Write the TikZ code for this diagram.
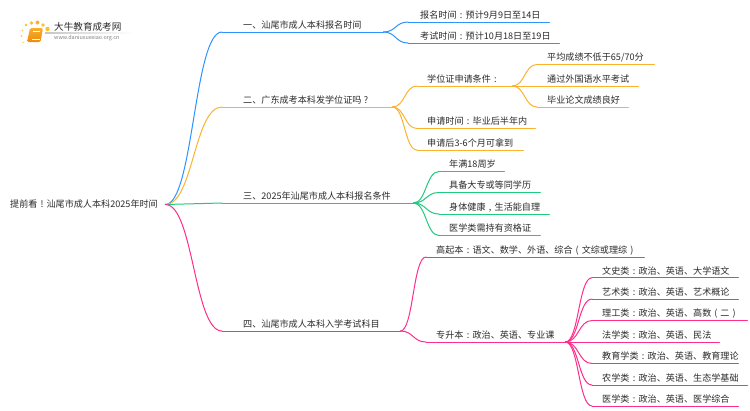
\documentclass[tikz,border=0pt]{standalone}
\usepackage{fontspec}
\setmainfont{Noto Sans CJK SC}
\usetikzlibrary{calc}
\definecolor{cblue}{HTML}{2E93FF}
\definecolor{corange}{HTML}{FBB32F}
\definecolor{cgreen}{HTML}{1FCB7F}
\definecolor{cpink}{HTML}{FF2E8C}
\definecolor{ctext}{HTML}{2B2B2B}
\definecolor{cbooka}{HTML}{F7B02E}
\definecolor{cbookb}{HTML}{EE8A10}
\tikzset{
  every node/.style={text=ctext,font=\fontsize{9.1}{11}\selectfont},
  topic/.style={anchor=south west,inner xsep=0pt,inner ysep=1.5pt,text height=8pt,text depth=2pt},
  stem/.style={line width=1pt,line cap=round}
}
\newcommand\fw[1]{\makebox[9.1pt][c]{#1}}
% name, line start x, text x, line end x, line y, colour, text
\newcommand\mapnode[7]{%
  \pgfmathsetlengthmacro\gapw{#3pt-#2pt}%
  \pgfmathsetlengthmacro\boxw{#4pt-#3pt}%
  \node[topic] (#1) at (#2,#5) {\hspace*{\gapw}\makebox[\boxw][l]{#7}};
  \draw[stem,#6] (#1.south west) -- (#1.south east);
}
% parent, child, half gap, colour
\newcommand\link[4]{\draw[stem,#4] (#1.south east) .. controls +(#3,0) and +(-#3,0) .. (#2.south west);}
\newcommand\rootlink[2]{\draw[stem,#2] (root.east) .. controls +(28,0) and +(-28,0) .. (#1.south west);}
\begin{document}
\begin{tikzpicture}[x=1pt,y=-1pt]
\useasboundingbox (0,0) rectangle (750,410);
\fill[white] (0,0) rectangle (750,410);

% logo
\foreach \px/\py/\pr/\pc in {47.5/29/2.2/FBC02D,43/25/1.9/FBC02D,37.5/22.5/2/FBB32F,31.5/23/1.8/FBC02D,26/25/1.3/FBC02D,22.5/30.5/1.2/FDD66B,21.5/36/1.1/FDD66B,23/42.5/.9/FDD66B}{
  \definecolor{dotc}{HTML}{\pc}
  \fill[dotc] (\px,\py) circle (\pr);
}
\shade[rounded corners=1.5pt,top color=cbooka,bottom color=cbookb] (30,28) -- (43,28) -- (40.5,42) -- (27,42) -- cycle;
\draw[white,line width=.5pt] (32,39.5) -- (39.5,39.5);
\draw[white,line width=.5pt] (33,31) -- (40,31);
\shade[left color=gray!45,right color=white] (45,32.8) rectangle (133,33.4);
\node[anchor=west,inner sep=0pt,font=\fontsize{9.6}{11}\selectfont] (logotitle) at (54,27) {大牛教育成考网};
\node[anchor=west,inner sep=0pt,font=\fontsize{5.4}{7}\selectfont,text=gray] (logourl) at (54,38.5) {www.daniuxuexiao.org.cn};

% root
\node[anchor=west,inner sep=0pt] (root) at (10,204.5) {\makebox[155pt][l]{提前看\fw{!}汕尾市成人本科2025年时间}};

% branch 1
\mapnode{a}{222}{243}{383}{32}{cblue}{一、汕尾市成人本科报名时间}
\mapnode{a1}{408}{420}{549}{22}{cblue}{报名时间\fw{:}预计9月9日至14日}
\mapnode{a2}{408}{420}{559}{43}{cblue}{考试时间\fw{:}预计10月18日至19日}
\rootlink{a}{cblue}
\link{a}{a1}{12.5}{cblue}
\link{a}{a2}{12.5}{cblue}

% branch 2
\mapnode{b}{222}{243}{392}{107}{corange}{二、广东成考本科发学位证吗\fw{?}}
\mapnode{b1}{417}{427}{512}{86}{corange}{学位证申请条件\fw{:}}
\mapnode{b2}{417}{427}{535}{128.5}{corange}{申请时间\fw{:}毕业后半年内}
\mapnode{b3}{417}{427}{523}{150}{corange}{申请后3-6个月可拿到}
\mapnode{b11}{537}{547}{654}{64.5}{corange}{平均成绩不低于65/70分}
\mapnode{b12}{537}{547}{638}{86}{corange}{通过外国语水平考试}
\mapnode{b13}{537}{547}{628}{107}{corange}{毕业论文成绩良好}
\rootlink{b}{corange}
\link{b}{b1}{12.5}{corange}
\link{b}{b2}{12.5}{corange}
\link{b}{b3}{12.5}{corange}
\link{b1}{b11}{12.5}{corange}
\link{b1}{b12}{12.5}{corange}
\link{b1}{b13}{12.5}{corange}

% branch 3
\mapnode{c}{222}{243}{413}{203}{cgreen}{三、2025年汕尾市成人本科报名条件}
\mapnode{c1}{439}{449}{504}{171.5}{cgreen}{年满18周岁}
\mapnode{c2}{439}{449}{540}{192.5}{cgreen}{具备大专或等同学历}
\mapnode{c3}{439}{449}{549}{214}{cgreen}{身体健康\fw{,}生活能自理}
\mapnode{c4}{439}{449}{540}{235.5}{cgreen}{医学类需持有资格证}
\rootlink{c}{cgreen}
\link{c}{c1}{13}{cgreen}
\link{c}{c2}{13}{cgreen}
\link{c}{c3}{13}{cgreen}
\link{c}{c4}{13}{cgreen}

% branch 4
\mapnode{d}{222}{243}{400}{331}{cpink}{四、汕尾市成人本科入学考试科目}
\mapnode{d1}{426}{436}{644}{257}{cpink}{高起本\fw{:}语文、数学、外语、综合\fw{(}文综或理综\fw{)}}
\mapnode{d2}{426}{436}{565}{342}{cpink}{专升本\fw{:}政治、英语、专业课}
\mapnode{e1}{592}{602}{738}{277.7}{cpink}{文史类\fw{:}政治、英语、大学语文}
\mapnode{e2}{592}{602}{738}{299}{cpink}{艺术类\fw{:}政治、英语、艺术概论}
\mapnode{e3}{592}{602}{747}{320.5}{cpink}{理工类\fw{:}政治、英语、高数\fw{(}二\fw{)}}
\mapnode{e4}{592}{602}{719}{342}{cpink}{法学类\fw{:}政治、英语、民法}
\mapnode{e5}{592}{602}{738}{363.5}{cpink}{教育学类\fw{:}政治、英语、教育理论}
\mapnode{e6}{592}{602}{747}{385}{cpink}{农学类\fw{:}政治、英语、生态学基础}
\mapnode{e7}{592}{602}{738}{406}{cpink}{医学类\fw{:}政治、英语、医学综合}
\rootlink{d}{cpink}
\link{d}{d1}{13}{cpink}
\link{d}{d2}{13}{cpink}
\foreach \k in {e1,e2,e3,e4,e5,e6,e7}{\link{d2}{\k}{13.5}{cpink}}
\end{tikzpicture}
\end{document}
